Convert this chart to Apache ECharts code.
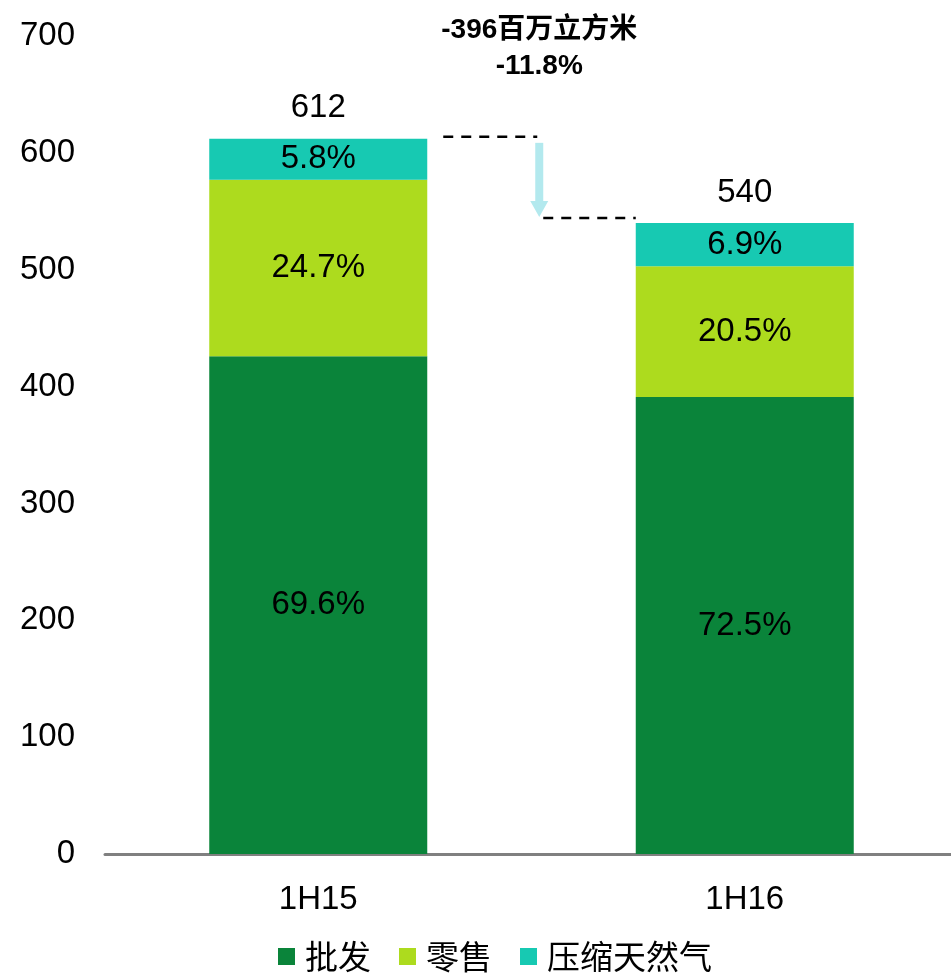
<!DOCTYPE html>
<html>
<head>
<meta charset="utf-8">
<script src="https://cdn.jsdelivr.net/npm/echarts@6/dist/echarts.min.js"></script>
<style>
  html, body { margin: 0; padding: 0; background: #fff; }
  #chart { width: 951px; height: 973px; }
</style>
</head>
<body>
<div id="chart"></div>
<script>
// 数据
const periods = ['1H15', '1H16'];
const wholesale = [426, 391];   // 批发
const retail = [151, 112];      // 零售
const cng = [35, 37];           // 压缩天然气
const totals = [612, 540];
const wholesalePct = ['69.6%', '72.5%'];
const retailPct = ['24.7%', '20.5%'];
const cngPct = ['5.8%', '6.9%'];
const yTicks = [0, 100, 200, 300, 400, 500, 600, 700];
const changeText = ['-396百万立方米', '-11.8%'];

const font = 'Liberation Sans, Arial, sans-serif';
const cjk = '"Noto Sans CJK SC", sans-serif';

const chart = echarts.init(document.getElementById('chart'));

function segLabel(labels) {
  return {
    show: true,
    position: 'inside',
    color: '#000',
    fontSize: 33,
    fontFamily: font,
    formatter: p => labels[p.dataIndex]
  };
}

const option = {
  animation: false,
  grid: { left: 105, width: 853, top: 36, bottom: 119, outerBoundsMode: 'none' },
  legend: {
    top: 935,
    left: 273,
    itemWidth: 17,
    itemHeight: 17,
    itemGap: 28,
    icon: 'rect',
    textStyle: { fontSize: 33, fontFamily: cjk, color: '#000', padding: [0, 0, 0, 5] },
    data: ['批发', '零售', '压缩天然气']
  },
  xAxis: {
    type: 'category',
    data: periods,
    axisLine: { lineStyle: { color: '#808080', width: 3 } },
    axisTick: { show: false },
    axisLabel: { fontSize: 33, fontFamily: font, color: '#000', margin: 29 }
  },
  yAxis: {
    type: 'value',
    min: yTicks[0],
    max: yTicks[yTicks.length - 1],
    interval: 100,
    splitLine: { show: false },
    axisLine: { show: false },
    axisTick: { show: false },
    axisLabel: { fontSize: 33, fontFamily: font, color: '#000', margin: 30 }
  },
  series: [
    {
      name: '批发', type: 'bar', stack: 'a', barWidth: 218,
      itemStyle: { color: '#0A843A' },
      label: segLabel(wholesalePct),
      data: wholesale
    },
    {
      name: '零售', type: 'bar', stack: 'a',
      itemStyle: { color: '#ADDB1E' },
      label: segLabel(retailPct),
      data: retail
    },
    {
      name: '压缩天然气', type: 'bar', stack: 'a',
      itemStyle: { color: '#17C9B2' },
      label: segLabel(cngPct),
      data: cng
    },
    {
      name: 'total', type: 'bar', stack: 'a',
      itemStyle: { color: 'transparent' },
      label: {
        show: true, position: 'top', distance: 14,
        fontSize: 33, fontFamily: font, color: '#000',
        formatter: p => totals[p.dataIndex]
      },
      data: [0, 0]
    }
  ]
};
chart.setOption(option);

// 变化标注：虚线、箭头、文字
const y1 = chart.convertToPixel({ gridIndex: 0 }, [0, totals[0]])[1] - 2;
const y2 = chart.convertToPixel({ gridIndex: 0 }, [0, totals[1]])[1] - 5;
const x1 = chart.convertToPixel({ gridIndex: 0 }, [0, 0])[0] + 109;
const x2 = chart.convertToPixel({ gridIndex: 0 }, [1, 0])[0] - 109;
const xa = x1 + 112;
const dash = { stroke: '#000', lineWidth: 2.5, lineDash: [10, 8] };

chart.setOption({
  graphic: [
    { type: 'line', shape: { x1: x1 + 16, y1: y1, x2: xa - 2, y2: y1 }, style: dash },
    { type: 'line', shape: { x1: xa + 4, y1: y2, x2: x2, y2: y2 }, style: dash },
    { type: 'rect', shape: { x: xa - 4, y: y1 + 6, width: 8, height: y2 - y1 - 22 },
      style: { fill: '#B3E9EE' } },
    { type: 'polygon', shape: { points: [[xa - 9, y2 - 17], [xa + 9, y2 - 17], [xa, y2 - 1]] },
      style: { fill: '#B3E9EE' } },
    { type: 'text', x: xa, y: 30, style: {
        text: changeText[0], fontSize: 28, fontWeight: 'bold', fontFamily: font + ',' + cjk,
        fill: '#000', align: 'center', verticalAlign: 'middle' } },
    { type: 'text', x: xa, y: 66, style: {
        text: changeText[1], fontSize: 28, fontWeight: 'bold', fontFamily: font,
        fill: '#000', align: 'center', verticalAlign: 'middle' } }
  ]
});
</script>
</body>
</html>
